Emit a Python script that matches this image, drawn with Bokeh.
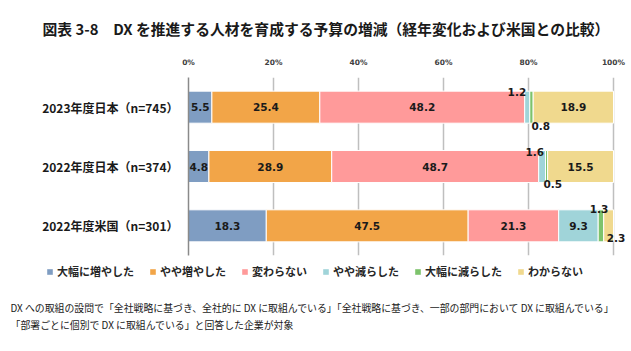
from bokeh.plotting import figure
from bokeh.models import (ColumnDataSource, FactorRange, Range1d, Legend, LegendItem,
                          Label, FixedTicker, LinearAxis)
from bokeh.embed import file_html
from bokeh.resources import INLINE
from bokeh.core.properties import value

# ---- data ----
categories = ["2023年度日本（n=745）", "2022年度日本（n=374）", "2022年度米国（n=301）"]
series_names = ["大幅に増やした", "やや増やした", "変わらない", "やや減らした", "大幅に減らした", "わからない"]
s_big_up = [5.5, 4.8, 18.3]
s_up = [25.4, 28.9, 47.5]
s_same = [48.2, 48.7, 21.3]
s_down = [1.2, 1.6, 9.3]
s_big_down = [0.8, 0.5, 1.3]
s_unknown = [18.9, 15.5, 2.3]
tick_values = [0, 20, 40, 60, 80, 100]
tick_labels = ["0%", "20%", "40%", "60%", "80%", "100%"]
title_text = "図表 3-8　DX を推進する人材を育成する予算の増減（経年変化および米国との比較）"
note_line1 = "DX への取組の設問で「全社戦略に基づき、全社的に DX に取組んでいる」「全社戦略に基づき、一部の部門において DX に取組んでいる」"
note_line2 = "「部署ごとに個別で DX に取組んでいる」と回答した企業が対象"

series = [s_big_up, s_up, s_same, s_down, s_big_down, s_unknown]
colors = ["#7F9DC2", "#F2A548", "#FF9A9A", "#A0D4D9", "#7DC36C", "#F0D98E"]
keys = ["s0", "s1", "s2", "s3", "s4", "s5"]

W, H = 631, 351
L, T = 188, 77
X100 = 613        # pixel of the 100% line
H1 = 258          # chart figure height (frame bottom at 255)
H2 = H - H1       # legend / notes strip

data = {"cat": categories}
for k, s in zip(keys, series):
    data[k] = s
source = ColumnDataSource(data)

x_end = 100.0 * (W - L) / (X100 - L)   # frame runs to the right edge so labels are not clipped
p = figure(width=W, height=H1, output_backend="svg", toolbar_location=None,
           y_range=FactorRange(factors=list(reversed(categories)), range_padding=0),
           x_range=Range1d(0, x_end), x_axis_location=None,
           min_border_left=L, min_border_right=0, min_border_top=T, min_border_bottom=3)
p.outline_line_color = None
p.background_fill_color = "white"
p.border_fill_color = "white"

renderers = p.hbar_stack(keys, y="cat", height=0.54, color=colors, source=source,
                         line_color="white", line_width=1)

# title
p.title.text = title_text
p.title.align = "left"
p.title.offset = 42 - L
p.title.standoff = 31
p.title.text_font = "Noto Sans CJK JP"
p.title.text_font_style = "bold"
p.title.text_font_size = "14.8px"
p.title.text_color = "#1a1a1a"

# top axis
ax = LinearAxis(ticker=FixedTicker(ticks=tick_values))
ax.major_label_overrides = {v: t for v, t in zip(tick_values, tick_labels)}
ax.axis_line_color = None
ax.major_tick_line_color = None
ax.minor_tick_line_color = None
ax.major_label_standoff = 5
ax.major_label_text_font = "DejaVu Sans"
ax.major_label_text_font_style = "bold"
ax.major_label_text_font_size = "7.5px"
ax.major_label_text_color = "#404040"
p.add_layout(ax, "above")

p.xgrid.ticker = FixedTicker(ticks=tick_values)
p.xgrid.grid_line_color = "#BFBFBF"
p.xgrid.grid_line_width = 1.5
p.ygrid.grid_line_color = None

ya = p.yaxis[0]
ya.axis_line_color = "#8a8a8a"
ya.axis_line_width = 1.5
ya.major_tick_line_color = None
ya.minor_tick_line_color = None
ya.major_label_standoff = 4
ya.major_label_text_font = "Noto Sans CJK JP"
ya.major_label_text_font_style = "bold"
ya.major_label_text_font_size = "12px"
ya.major_label_text_color = "#1a1a1a"

# data labels
small_style = {  # (row, seg): (anchor fraction within segment, align, x_offset, y_offset)
    (0, 3): (0.5, "right", -1, -15), (0, 4): (0.5, "left", 0, 19),
    (1, 3): (0.5, "right", 2, -15), (1, 4): (0.5, "left", -3, 17),
    (2, 4): (0.5, "center", -2, -17), (2, 5): (0.0, "left", 3, 12),
}
lx, ly, lt, la, lxo, lyo = [], [], [], [], [], []
for r, cat in enumerate(categories):
    acc = 0.0
    for si, s in enumerate(series):
        v = s[r]
        frac, align, xo, yo = 0.5, "center", 0, 0
        if (r, si) in small_style:
            frac, align, xo, yo = small_style[(r, si)]
        lx.append(acc + v * frac); ly.append(cat); lt.append(f"{v:.1f}")
        la.append(align); lxo.append(xo); lyo.append(yo)
        acc += v
lsrc = ColumnDataSource(dict(x=lx, y=ly, t=lt, a=la, xo=lxo, yo=lyo))
p.text(x="x", y="y", text="t", source=lsrc, text_align="a", x_offset="xo", y_offset="yo",
       text_baseline="middle", text_font=value("DejaVu Sans"), text_font_style="bold",
       text_font_size="10.5px", text_color="#1a1a1a")

# ---- legend + notes strip (separate root, pixel coordinates from its top-left) ----
p2 = figure(width=W, height=H2, output_backend="svg", toolbar_location=None,
            x_range=Range1d(0, W), y_range=Range1d(H2, 0),
            min_border_left=0, min_border_right=0, min_border_top=0, min_border_bottom=0)
p2.axis.visible = False
p2.grid.visible = False
p2.outline_line_color = None
p2.border_fill_color = "white"
p2.background_fill_color = "white"

swatches = []
for c in colors:
    # swatch renderers for the legend only; their quads sit outside the visible range
    swatches.append(p2.quad(left=[-20], right=[-10], top=[-20], bottom=[-10],
                            fill_color=c, line_color=None))
items = [LegendItem(label=n, renderers=[r]) for n, r in zip(series_names, swatches)]
legend = Legend(items=items, orientation="horizontal", location=(46, H2 - 21),
                glyph_width=7, glyph_height=7, label_height=12, label_standoff=4,
                spacing=15, padding=0, margin=0, border_line_color=None,
                background_fill_alpha=0,
                label_text_font="Noto Sans CJK JP", label_text_font_style="bold",
                label_text_font_size="11px", label_text_color="#262626")
p2.add_layout(legend, "center")

for txt, yy in [(note_line1, 307 - H1), (note_line2, 324 - H1)]:
    p2.add_layout(Label(x=10, y=yy, text=txt, text_align="left", text_baseline="middle",
                        text_font="Noto Sans CJK JP", text_font_size="9.9px",
                        text_color="#1a1a1a"))

open("out.html", "w").write(file_html([p, p2], INLINE))
